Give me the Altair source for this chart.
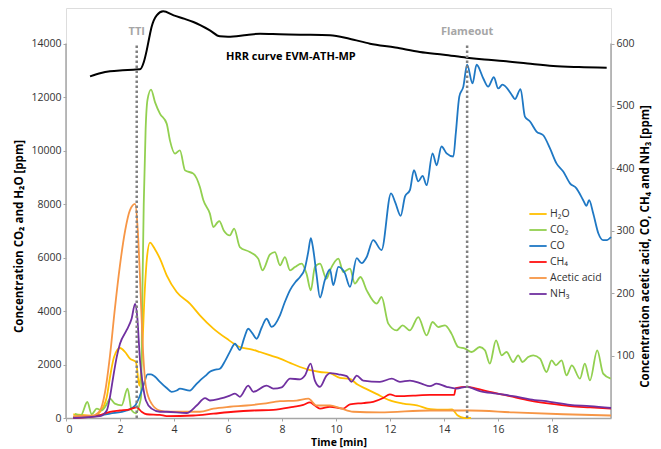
import altair as alt
import pandas as pd

# ---------------- data ----------------
# Left axis series (CO2, H2O) in ppm
h2o_t = [0.27, 0.6, 1.0, 1.26, 1.51, 1.63, 1.78, 2.0, 2.19, 2.37, 2.59, 2.72, 2.82, 2.92, 3.0, 3.11,
         3.3, 3.48, 3.73, 4.1, 4.59, 4.96, 5.46, 5.95, 6.44, 6.9, 7.19, 7.6, 7.93, 8.3, 8.67, 9.0,
         9.41, 9.78, 10.15, 10.5, 10.8, 11.1, 11.5, 12.0, 12.5, 13.0, 13.5, 14.0, 14.3, 14.5, 14.75, 15.0]
h2o_v = [138, 120, 64, 224, 785, 1533, 2280, 2617, 2467, 2220, 2093, 1200, 2500, 4800, 6000, 6560,
         6300, 5958, 5334, 4710, 4276, 3839, 3342, 2968, 2654, 2560, 2467, 2330, 2220, 2060, 1906, 1800,
         1720, 1680, 1500, 1470, 1250, 1100, 900, 660, 540, 470, 330, 310, 320, 100, 0, 0]

co2_t = [0.33, 0.55, 0.79, 0.95, 1.14, 1.32, 1.5, 1.63, 1.81, 2.06, 2.28, 2.43, 2.59, 2.72, 2.78,
         2.82, 2.88, 2.95, 3.02, 3.15, 3.3, 3.48, 3.73, 3.85, 4.04, 4.22, 4.41, 4.72, 4.96, 5.09, 5.33,
         5.46, 5.6, 5.68, 5.85, 6.07, 6.23, 6.44, 6.81, 7.12, 7.28, 7.56, 7.74, 7.93, 8.11, 8.3, 8.48,
         8.73, 8.91, 9.07, 9.22, 9.41, 9.65, 9.78, 10.09, 10.27, 10.52, 10.7, 10.91, 11.14, 11.51,
         11.69, 11.94, 12.25, 12.47, 12.74, 13.05, 13.36, 13.58, 13.79, 14.04, 14.28, 14.53, 14.78,
         15.03, 15.33, 15.52, 15.7, 15.93, 16.14, 16.32, 16.57, 16.75, 16.91, 17.12, 17.31, 17.56,
         17.8, 17.99, 18.15, 18.36, 18.54, 18.74, 19.04, 19.22, 19.41, 19.68, 19.9, 20.18]
co2_v = [160, 100, 598, 140, 350, 290, 500, 725, 538, 475, 1099, 288, 175, 500, 800,
         4000, 8000, 10800, 11900, 12276, 11800, 11380, 11005, 10380, 9883, 10007, 9259, 9135, 8635, 8137, 7640,
         7140, 7300, 7364, 7000, 6829, 7080, 6392, 6205, 5958, 5521, 6119, 6205, 5708, 6018, 5521, 5644,
         5771, 5397, 4773, 5644, 5771, 5210, 5521, 5958, 5458, 5584, 5024, 5271, 4773, 4276,
         4523, 3529, 3278, 3465, 3278, 3775, 3091, 3589, 3401, 3465, 3155, 2654, 2594,
         2467, 2654, 2531, 2033, 2904, 2344, 2467, 2093, 2344, 2093, 2280, 2344, 2220,
         1720, 2157, 1969, 2157, 1596, 1969, 1473, 2033, 1409, 2531, 1660, 1473]

# Right axis series (acetic acid, CO, CH4, NH3) in ppm
co_t = [0.27, 1.0, 1.63, 2.25, 2.56, 2.74, 2.89, 3.02, 3.15, 3.3, 3.48, 3.73, 3.91, 4.1, 4.22, 4.59,
        4.78, 4.96, 5.15, 5.33, 5.5, 5.7, 5.9, 6.07, 6.26, 6.44, 6.6, 6.75, 6.9, 7.06, 7.25, 7.43,
        7.62, 7.93, 8.1, 8.3, 8.5, 8.67, 8.85, 8.97, 9.07, 9.16, 9.28, 9.41, 9.59, 9.78, 9.9, 10.09,
        10.33, 10.52, 10.77, 10.95, 11.14, 11.38, 11.69, 12.04, 12.2, 12.4, 12.56, 12.74, 12.89, 13.05,
        13.21, 13.36, 13.58, 13.73, 13.91, 14.1, 14.35, 14.44, 14.57, 14.72, 14.86, 15.06, 15.21,
        15.46, 15.64, 15.85, 16.01, 16.17, 16.51, 16.63, 16.84, 17.0, 17.19, 17.43, 17.68, 17.93,
        18.17, 18.42, 18.67, 18.91, 19.16, 19.28, 19.38, 19.53, 19.72, 19.9, 20.03, 20.19]
co_v = [1.6, 3, 7, 12, 20, 36, 55, 70, 70, 66, 58, 48, 42, 44, 47, 44,
        52, 60, 67, 74, 77, 79, 92, 106, 119, 109, 128, 143, 136, 127, 145, 159,
        146, 165, 185, 205, 218, 226, 240, 265, 288, 270, 230, 193, 221, 238, 213, 242,
        232, 210, 256, 248, 258, 285, 269, 360, 345, 324, 355, 365, 397, 379,
        388, 373, 424, 405, 435, 424, 419, 456, 515, 531, 566, 536, 566,
        544, 531, 546, 528, 534, 518, 511, 527, 483, 475, 459, 453, 432,
        408, 395, 376, 368, 349, 340, 349, 328, 296, 285, 285, 290]

ch4_t = [0.27, 1.14, 1.63, 2.0, 2.37, 2.62, 2.8, 2.99, 3.48, 3.73, 4.72, 5.46, 6.2, 6.94, 7.68, 8.42,
         8.79, 9.04, 9.22, 9.41, 9.78, 10.27, 10.52, 11.01, 11.38, 11.75, 12.0, 12.25, 12.86, 13.48,
         13.98, 14.38, 14.44, 14.84, 15.21, 15.7, 16.44, 17.19, 17.93, 18.67, 19.41, 20.19]
ch4_v = [0, 3, 10, 12, 14, 17, 10, 6, 5, 3, 4, 7, 10, 12, 13, 18,
         21, 25, 20, 15, 18, 15, 22, 24, 26, 32, 38, 35, 36, 37,
         37, 37, 48, 50, 47, 42, 35, 28, 23, 19, 17, 15]

acetic_t = [0.27, 1.0, 1.26, 1.44, 1.63, 1.81, 2.0, 2.19, 2.37, 2.56, 2.66, 2.74, 2.84, 2.96, 3.17,
            3.48, 3.85, 4.22, 4.96, 5.46, 6.07, 6.69, 7.31, 7.93, 8.54, 8.98, 9.28, 9.65, 9.78, 10.15,
            10.64, 11.63, 13.48, 14.96, 16.57, 18.42, 20.19]
acetic_v = [3, 4, 12, 40, 100, 175, 245, 300, 333, 343, 300, 226, 119, 50, 23,
            12, 10, 10, 10, 15, 18, 20, 23, 27, 28, 31, 20, 20, 20, 16,
            10, 9, 12, 12, 9, 6, 4]

nh3_t = [0.27, 1.26, 1.51, 1.63, 1.75, 1.88, 2.0, 2.25, 2.43, 2.56, 2.64, 2.74, 2.84, 2.96, 3.17,
         3.48, 3.73, 4.47, 4.84, 5.15, 5.33, 5.7, 6.07, 6.26, 6.44, 6.75, 6.94, 7.43, 7.68, 7.99, 8.3,
         8.67, 8.85, 9.06, 9.22, 9.41, 9.65, 9.78, 10.09, 10.4, 10.58, 10.77, 11.01, 11.63, 12.07,
         12.37, 12.74, 13.17, 13.48, 13.73, 14.1, 14.47, 14.84, 15.33, 15.95, 16.57, 17.19, 17.93,
         18.67, 19.41, 20.19]
nh3_v = [0, 3, 12, 34, 66, 98, 119, 141, 159, 183, 162, 93, 55, 28, 15,
         10, 10, 8, 20, 32, 28, 31, 36, 39, 34, 52, 42, 52, 47, 49, 63,
         62, 68, 87, 60, 50, 68, 72, 70, 67, 58, 68, 60, 58, 63,
         58, 60, 55, 51, 55, 50, 47, 50, 43, 39, 35, 30, 26,
         21, 19, 16]

# HRR curve (shape only, drawn in left-axis units, no own axis)
hrr_t = [0.89, 1.3, 1.63, 2.1, 2.49, 2.74, 2.88, 2.99, 3.08, 3.17, 3.36, 3.6, 3.99, 4.4, 4.72, 5.33,
         5.7, 6.0, 6.7, 7.19, 7.9, 8.67, 9.78, 10.5, 11.26, 12.2, 13.11, 14.0, 14.84, 15.5, 16.2,
         17.1, 18.05, 19.0, 20.03]
hrr_v = [12773, 12900, 12960, 13000, 13023, 13034, 13300, 13745, 14200, 14615, 15053, 15202, 15053,
         14920, 14803, 14492, 14268, 14250, 14320, 14368, 14350, 14331, 14306, 14180, 13995, 13850,
         13681, 13580, 13471, 13400, 13345, 13250, 13158, 13120, 13098]

series_names = ["H₂O", "CO₂", "CO", "CH₄", "Acetic acid", "NH₃"]
series_colors = ["#FFC000", "#92D050", "#1F78C4", "#FF1010", "#F79646", "#7030A0"]
series_widths = [1.8, 1.8, 2.2, 1.8, 1.8, 1.8]

events = ["TTI", "Flameout"]
event_t = [2.62, 14.86]

left_ticks = [0, 2000, 4000, 6000, 8000, 10000, 12000, 14000]
right_ticks = [100, 200, 300, 400, 500, 600]
x_ticks = [0, 2, 4, 6, 8, 10, 12, 14, 16, 18]

X_MAX = 20.19
YL_MAX = 15328
YR_MAX = YL_MAX / 14000 * 600

# ---------------- tables ----------------
def frame(name, ts, vs):
    return pd.DataFrame({"t": ts, "v": vs, "series": name})

left_df = pd.concat([frame("H₂O", h2o_t, h2o_v), frame("CO₂", co2_t, co2_v)])
right_df = pd.concat([frame("CO", co_t, co_v), frame("CH₄", ch4_t, ch4_v),
                      frame("Acetic acid", acetic_t, acetic_v), frame("NH₃", nh3_t, nh3_v)])
hrr_df = pd.DataFrame({"t": hrr_t, "v": hrr_v})
events_df = pd.DataFrame({"t": event_t, "label": events, "v": [0, 0], "v2": [14000, 14000], "lv": [14420, 14420]})
axes_df = pd.DataFrame({"t": [0, X_MAX], "v": [0, 0], "v2": [14000, 14000]})
note_df = pd.DataFrame({"t": [8.33], "v": [13483], "label": ["HRR curve EVM-ATH-MP"]})

# ---------------- encodings ----------------
FONT = "Open Sans"
x_scale = alt.Scale(domain=[0, X_MAX], nice=False, zero=False)
yl_scale = alt.Scale(domain=[0, YL_MAX], nice=False)
yr_scale = alt.Scale(domain=[0, YR_MAX], nice=False)

X = alt.X("t:Q", scale=x_scale, title="Time [min]",
          axis=alt.Axis(values=x_ticks, grid=False, domainColor="#a6a6a6", domainWidth=1.5,
                        tickColor="#a6a6a6", tickSize=3, labelPadding=3, labelFontSize=10.5,
                        labelColor="#333333", titleFontSize=10.5, titleFontWeight="bold",
                        titlePadding=3, titleColor="#000000", labelFont=FONT, titleFont=FONT))

legend_kw = dict(title=None, orient="none", legendX=462, legendY=196, symbolType="stroke",
                 symbolSize=300, rowPadding=0, labelOffset=2, labelFontSize=10.5,
                 labelFont=FONT, labelColor="#333333")
color = alt.Color("series:N", scale=alt.Scale(domain=series_names, range=series_colors),
                  legend=alt.Legend(**legend_kw))
swidth = alt.StrokeWidth("series:N", scale=alt.Scale(domain=series_names, range=series_widths),
                         legend=alt.Legend(**legend_kw))

left_axis = alt.Axis(values=left_ticks, format="d", grid=False, domain=False, tickColor="#a6a6a6",
                     tickSize=3, labelPadding=2, labelFontSize=10.5, labelColor="#333333", labelFont=FONT,
                     title="Concentration CO₂ and H₂O [ppm]", titleFont=FONT, titleFontSize=11.5,
                     titleFontWeight="bold", titleColor="#000000", titlePadding=6, titleY=228)
right_axis = alt.Axis(values=right_ticks, format="d", grid=False, domain=False, tickColor="#a6a6a6",
                      tickSize=3, labelPadding=2, labelFontSize=10.5, labelColor="#333333", labelFont=FONT,
                      title="Concentration acetic acid, CO, CH₄ and NH₃ [ppm]", titleFont=FONT,
                      titleFontSize=11.5, titleFontWeight="bold", titleColor="#000000", titlePadding=5,
                      titleAngle=270, titleBaseline="top", titleY=238)

left_lines = alt.Chart(left_df).mark_line(interpolate="monotone").encode(
    x=X, y=alt.Y("v:Q", scale=yl_scale, axis=left_axis), color=color, strokeWidth=swidth,
    detail="series:N")

right_lines = alt.Chart(right_df).mark_line(interpolate="monotone").encode(
    x=X, y=alt.Y("v:Q", scale=yr_scale, axis=right_axis), color=color, strokeWidth=swidth,
    detail="series:N")

hrr_line = alt.Chart(hrr_df).mark_line(color="#000000", strokeWidth=2, interpolate="monotone").encode(
    x=X, y=alt.Y("v:Q", scale=yl_scale, axis=None))

axis_lines = alt.Chart(axes_df).mark_rule(color="#a6a6a6", strokeWidth=1.5).encode(
    x=X, y=alt.Y("v:Q", scale=yl_scale, axis=None), y2="v2:Q")

event_rules = alt.Chart(events_df).mark_rule(color="#7f7f7f", strokeWidth=2.5, strokeDash=[2.5, 2.5]).encode(
    x=X, y=alt.Y("v:Q", scale=yl_scale, axis=None), y2="v2:Q")

event_text = alt.Chart(events_df).mark_text(font=FONT, fontSize=11, fontWeight="bold", color="#a6a6a6",
                                            baseline="middle", align="center").encode(
    x=X, y=alt.Y("lv:Q", scale=yl_scale, axis=None), text="label:N")

note_text = alt.Chart(note_df).mark_text(font=FONT, fontSize=11, fontWeight="bold", color="#000000",
                                         baseline="middle", align="center").encode(
    x=X, y=alt.Y("v:Q", scale=yl_scale, axis=None), text="label:N")

chart = alt.layer(
    axis_lines, left_lines, right_lines, hrr_line, event_rules, event_text, note_text
).resolve_scale(y="independent").properties(
    width=545, height=410,
    autosize=alt.AutoSizeParams(type="none"),
    padding={"left": 58, "top": 0, "right": 42, "bottom": 31},
).configure_view(stroke=None).configure(font=FONT)

chart.save("out.html", embed_options={"renderer": "svg", "actions": False})
